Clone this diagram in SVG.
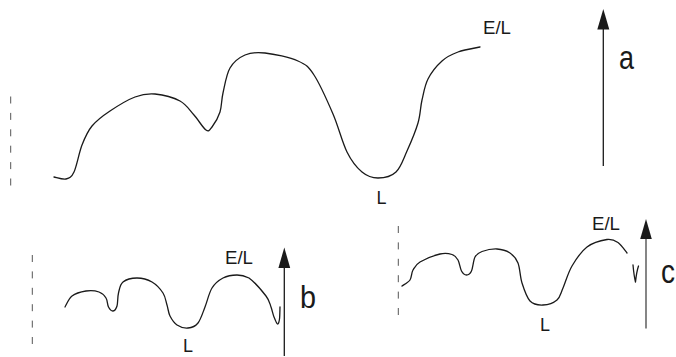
<svg xmlns="http://www.w3.org/2000/svg" width="676" height="357" viewBox="0 0 676 357">
<style>
.curve{fill:none;stroke:#1a1a1a;stroke-width:1.3;stroke-linecap:round;stroke-linejoin:round}
.dash{fill:none;stroke:#555;stroke-width:1;stroke-dasharray:7 9.4}
.axis{fill:none;stroke:#1a1a1a;stroke-width:1.3}
.head{fill:#1a1a1a;stroke:none}
.lbl{font-family:"Liberation Sans",Arial,sans-serif;font-size:18px;fill:#1a1a1a}
.big{font-family:"Liberation Sans",Arial,sans-serif;fill:#1a1a1a}
</style>
<rect width="676" height="357" fill="#ffffff"/>
<g id="panel-a">
<line class="dash" x1="10.7" y1="96.5" x2="10.7" y2="185.5"/>
<path class="curve" d="M54,177 C56,177.3 62.7,179.8 66,179 C69.3,178.2 71.3,177.7 74,172 C76.7,166.3 79,152.7 82,145 C85,137.3 87.3,131.7 92,126 C96.7,120.3 102.8,115.8 110,111 C117.2,106.2 127.5,99.8 135,97 C142.5,94.2 147.5,93.3 155,94 C162.5,94.7 173.5,97.5 180,101 C186.5,104.5 189.7,110.2 194,115 C198.3,119.8 203,128 206,130 C209,132 209.7,130 212,127 C214.3,124 218.2,117.7 220,112 C221.8,106.3 221.3,100.3 223,93 C224.7,85.7 226.3,74.3 230,68 C233.7,61.7 239.2,57.5 245,55 C250.8,52.5 256.2,52 265,53 C273.8,54 289.8,57.3 298,61 C306.2,64.7 308.2,66.2 314,75 C319.8,83.8 327.5,101.2 333,114 C338.5,126.8 342.2,142.3 347,152 C351.8,161.7 356.8,167.7 362,172 C367.2,176.3 372.3,178 378,178 C383.7,178 391.2,176.5 396,172 C400.8,167.5 403.3,159.2 407,151 C410.7,142.8 415.5,131.5 418,123 C420.5,114.5 420.3,107.3 422,100 C423.7,92.7 424.7,85.5 428,79 C431.3,72.5 437,65.5 442,61 C447,56.5 451.7,54.3 458,52 C464.3,49.7 476.3,47.8 480,47"/>
<text class="lbl" x="483" y="33.5" textLength="28" lengthAdjust="spacingAndGlyphs">E/L</text>
<text class="lbl" x="376.5" y="203.5">L</text>
<line class="axis" x1="603.3" y1="166" x2="603.3" y2="28"/>
<polygon class="head" points="603.3,9 597.3,29.5 609.3,29.5"/>
<text class="big" x="619" y="68.5" font-size="34" textLength="15" lengthAdjust="spacingAndGlyphs">a</text>
</g>
<g id="panel-b">
<line class="dash" x1="32.3" y1="255" x2="32.3" y2="344"/>
<path class="curve" d="M65,307 C66.2,305.2 68.5,298.7 72,296 C75.5,293.3 81.5,291.7 86,291 C90.5,290.3 95.7,290.8 99,292 C102.3,293.2 104.4,295.5 106,298 C107.6,300.5 107.3,304.8 108.5,307 C109.7,309.2 111.6,311.2 113,311 C114.4,310.8 116.1,309 117,306 C117.9,303 117.5,297 118.5,293 C119.5,289 119.9,284.5 123,282 C126.1,279.5 132.2,278 137,278 C141.8,278 147.7,279.5 152,282 C156.3,284.5 160.5,289.2 163,293 C165.5,296.8 165.8,301.2 167,305 C168.2,308.8 168.3,312.7 170,316 C171.7,319.3 174,323 177,325 C180,327 184.5,328.3 188,328 C191.5,327.7 195.2,326.5 198,323 C200.8,319.5 202.7,312.8 205,307 C207.3,301.2 209,292.8 212,288 C215,283.2 218.8,280.2 223,278 C227.2,275.8 232.7,275 237,275 C241.3,275 245,276 249,278 C253.8,281.5 262.3,291.2 266,296 C269.7,300.8 269.7,303.5 271,307 C272.3,310.5 272.9,314.2 274,317 C275.1,319.8 276.6,323.7 277.5,324 C278.4,324.3 279.1,321.8 279.5,319 C279.9,316.2 279.9,309 280,307"/>
<text class="lbl" x="225" y="263.5" textLength="28" lengthAdjust="spacingAndGlyphs">E/L</text>
<text class="lbl" x="183" y="351.5">L</text>
<line class="axis" x1="284.3" y1="356" x2="284.3" y2="266"/>
<polygon class="head" points="284.3,247.5 278.4,268 290.2,268"/>
<text class="big" x="300" y="307.5" font-size="32" textLength="16" lengthAdjust="spacingAndGlyphs">b</text>
</g>
<g id="panel-c">
<line class="dash" x1="398.3" y1="226" x2="398.3" y2="315"/>
<path class="curve" d="M402,286 C403.3,285 408.2,282.7 410,280 C411.8,277.3 411.3,273 413,270 C414.7,267 415.5,264.7 420,262 C424.5,259.3 434.7,255.3 440,254 C445.3,252.8 449,253.5 452,254.5 C455,255.5 456.4,257.3 458,260 C459.6,262.8 460.1,268.5 461.5,271 C462.9,273.5 464.8,275 466.5,275 C468.2,275 470.1,274 471.5,271 C472.9,268 473.3,260.3 475,257 C476.8,253.8 478.3,252.8 482,251.5 C485.7,250.2 492.3,248.8 497,249 C501.7,249.3 506.5,250.7 510,253 C513.5,255.3 516,258 518,263 C520,268 520,276.7 522,283 C524,289.3 526.5,297.3 530,301 C533.5,304.7 538.5,305.2 543,305 C547.5,304.8 553.7,302.8 557,300 C560.3,297.2 560.5,293.7 563,288 C565.5,282.3 568,272.8 572,266 C576,259.2 581.2,251.4 587,247 C592.8,242.6 601.8,240.3 607,239.5 C612.2,238.8 614.7,240.3 618,242.5 C621.3,244.8 625.5,251.2 627,253"/>
<path class="curve" d="M633,265 Q634,276 635.5,282 Q636.5,272 638.5,266"/>
<text class="lbl" x="592" y="229.5" textLength="28" lengthAdjust="spacingAndGlyphs">E/L</text>
<text class="lbl" x="540" y="331">L</text>
<line class="axis" x1="646" y1="328.5" x2="646" y2="237" style="stroke:#444"/>
<polygon class="head" points="646,219 640.2,239 651.8,239"/>
<text class="big" x="661" y="283" font-size="33" textLength="14" lengthAdjust="spacingAndGlyphs">c</text>
</g>
</svg>
